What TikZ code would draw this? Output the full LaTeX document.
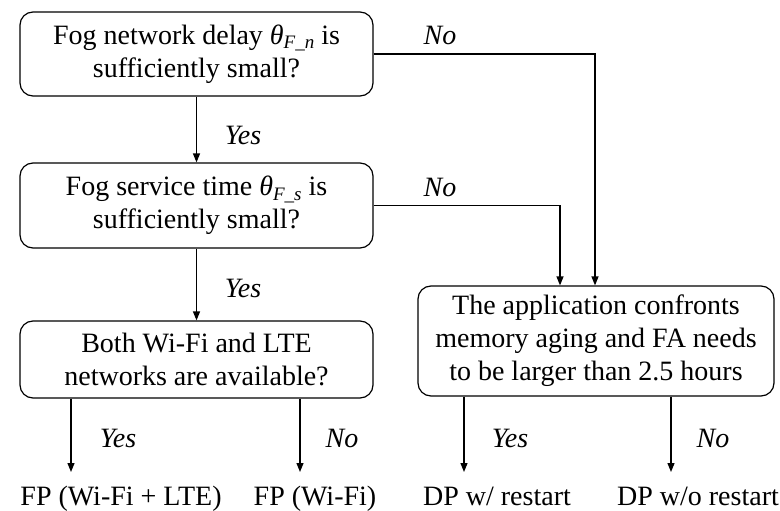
\documentclass[tikz,border=0pt]{standalone}
\usepackage{fontspec}
\setmainfont{Liberation Serif}
\usetikzlibrary{arrows.meta}
\newcommand{\thsub}[1]{\textit{θ}\raisebox{-0.35ex}{\fontsize{19}{19}\selectfont\textit{#1}}}
\begin{document}
\begin{tikzpicture}[x=1pt,y=-1pt,
  every node/.style={font=\fontsize{28}{33}\selectfont, inner sep=0pt},
  decision/.style={draw, line width=1.2pt, rounded corners=13pt, align=center},
  conn/.style={line width=1.2pt, -{Triangle[length=9pt,width=7pt]}},
  answer/.style={font=\fontsize{28}{33}\selectfont\itshape},
  outcome/.style={anchor=base}]
\useasboundingbox (0,0) rectangle (780,511);

% decision boxes
\node[decision, minimum width=353pt, minimum height=84pt] (b1) at (196.5,54)
  {Fog network delay \thsub{F\_n} is\\ sufficiently small?};
\node[decision, minimum width=353pt, minimum height=85pt] (b2) at (196.5,205.5)
  {Fog service time \thsub{F\_s} is\\ sufficiently small?};
\node[decision, minimum width=353pt, minimum height=77pt] (b3) at (196.5,359.5)
  {Both Wi-Fi and LTE\\ networks are available?};
\node[decision, minimum width=356pt, minimum height=110pt] (b4) at (596,341)
  {The application confronts\\ memory aging and FA needs\\ to be larger than 2.5 hours};

% outcomes
\node[outcome] (o1) at (121,505) {FP (Wi-Fi + LTE)};
\node[outcome] (o2) at (315,505) {FP (Wi-Fi)};
\node[outcome] (o3) at (497,505) {DP w/ restart};
\node[outcome] (o4) at (698,505) {DP w/o restart};

% arrow end points above the outcomes
\coordinate (e1) at (71,472);
\coordinate (e2) at (300,472);
\coordinate (e3) at (464,472);
\coordinate (e4) at (671,472);
\coordinate (k1) at (595,0);
\coordinate (k2) at (560,0);

% connectors
\draw[conn] (b1.south) -- (b2.north);
\draw[conn] (b2.south) -- (b3.north);
\draw[conn] (b1.east) -| (b4.north -| k1);
\draw[conn] (b2.east) -| (b4.north -| k2);
\draw[conn] (b3.south -| e1) -- (e1);
\draw[conn] (b3.south -| e2) -- (e2);
\draw[conn] (b4.south -| e3) -- (e3);
\draw[conn] (b4.south -| e4) -- (e4);

% branch labels
\node[answer] (l1) at (243,135) {Yes};
\node[answer] (l2) at (243,288) {Yes};
\node[answer] (l3) at (440,35) {No};
\node[answer] (l4) at (440,187) {No};
\node[answer] (l5) at (118,438) {Yes};
\node[answer] (l6) at (342,438) {No};
\node[answer] (l7) at (510,438) {Yes};
\node[answer] (l8) at (713,438) {No};
\end{tikzpicture}
\end{document}
